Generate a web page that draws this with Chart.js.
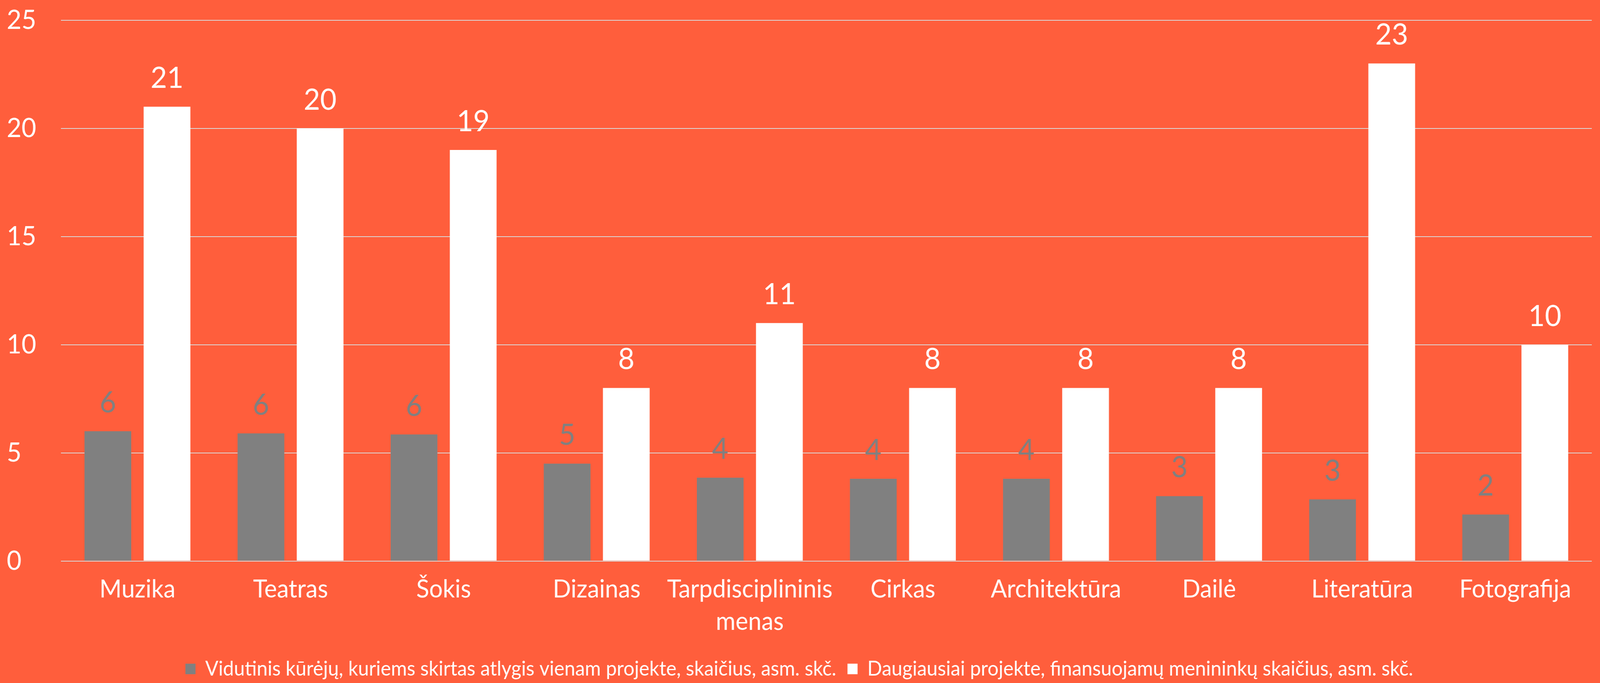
<!DOCTYPE html>
<html>
<head>
<meta charset="utf-8">
<script src="https://cdn.jsdelivr.net/npm/chart.js@4.4.1/dist/chart.umd.min.js"></script>
<style>
  html, body { margin: 0; padding: 0; background: #FF5E3C; overflow: hidden; }
  #wrap { position: absolute; left: 0; top: 0; width: 4280px; height: 1749px; transform-origin: 0 0; }
</style>
</head>
<body>
<div id="wrap"><canvas id="graph"></canvas></div>
<script>
// categories and series
var categories = ["Muzika", "Teatras", "Šokis", "Dizainas", ["Tarpdisciplininis", "menas"],
  "Cirkas", "Architektūra", "Dailė", "Literatūra", "Fotografija"];
var avgCreators = [6.0, 5.9, 5.85, 4.5, 3.85, 3.8, 3.8, 3.0, 2.85, 2.15];
var maxArtists = [21, 20, 19, 8, 11, 8, 8, 8, 23, 10];
var seriesNames = [
  "Vidutinis kūrėjų, kuriems skirtas atlygis vienam projekte, skaičius, asm. skč.",
  "Daugiausiai projekte, finansuojamų menininkų skaičius, asm. skč."
];
var yTicks = [0, 5, 10, 15, 20, 25];

var FONT = "Lato";

// the browser window may be narrower than 4280, so scale the whole chart to fit
var wrap = document.getElementById("wrap");
wrap.style.transform = "scale(" + (window.innerWidth / 4280) + "," + (window.innerHeight / 1749) + ")";

// draws the rounded value above each bar
var valueLabels = {
  id: "valueLabels",
  afterDatasetsDraw: function(chart) {
    var ctx = chart.ctx;
    ctx.save();
    ctx.font = "76px " + FONT;
    ctx.textAlign = "center";
    ctx.textBaseline = "alphabetic";
    chart.data.datasets.forEach(function(ds, i) {
      var meta = chart.getDatasetMeta(i);
      ctx.fillStyle = ds.labelColor;
      meta.data.forEach(function(bar, j) {
        ctx.fillText(Math.round(ds.data[j]), bar.x, bar.y - 48);
      });
    });
    ctx.restore();
  }
};

var ctx = document.getElementById("graph").getContext("2d");

var chart = new Chart(ctx, {
  type: "bar",
  data: {
    labels: categories,
    datasets: [{
      label: seriesNames[0],
      data: avgCreators,
      backgroundColor: "#808080",
      labelColor: "#808080",
      borderWidth: 0,
      categoryPercentage: 0.773,
      barPercentage: 0.79
    }, {
      label: seriesNames[1],
      data: maxArtists,
      backgroundColor: "#FFFFFF",
      labelColor: "#FFFFFF",
      borderWidth: 0,
      categoryPercentage: 0.773,
      barPercentage: 0.79
    }]
  },
  options: {
    responsive: true,
    maintainAspectRatio: false,
    animation: false,
    layout: { padding: { left: 18, right: 22, top: 11, bottom: 0 } },
    plugins: {
      tooltip: { enabled: false },
      legend: {
        position: "bottom",
        labels: {
          color: "#FFFFFF",
          font: { family: FONT, size: 52 },
          boxWidth: 27,
          boxHeight: 27,
          padding: 30
        }
      }
    },
    scales: {
      x: {
        grid: { display: false },
        border: { display: false },
        ticks: {
          color: "#FFFFFF",
          font: { family: FONT, size: 64, lineHeight: 1.3 },
          padding: 23,
          maxRotation: 0,
          autoSkip: false
        }
      },
      y: {
        min: 0,
        max: 25,
        afterBuildTicks: function(scale) {
          scale.ticks = yTicks.map(function(v) { return { value: v }; });
        },
        grid: { color: "#D9D9D9", lineWidth: 2, drawTicks: false },
        border: { display: false },
        ticks: {
          color: "#FFFFFF",
          font: { family: FONT, size: 68, lineHeight: 0.55 },
          padding: 33,
          crossAlign: "far"
        }
      }
    }
  },
  plugins: [valueLabels]
});
</script>
</body>
</html>
